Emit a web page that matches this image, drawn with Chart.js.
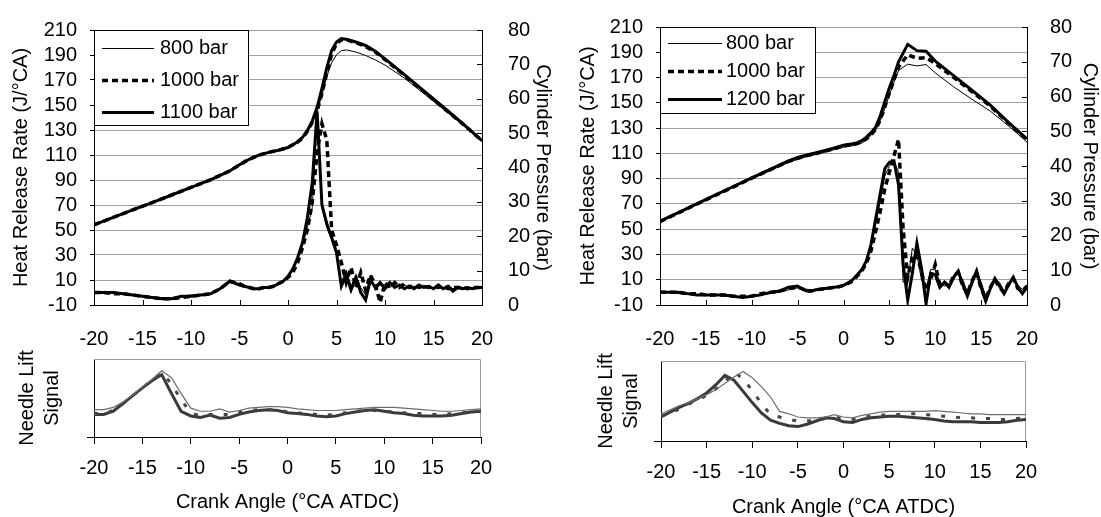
<!DOCTYPE html>
<html>
<head>
<meta charset="utf-8">
<script src="https://cdn.jsdelivr.net/npm/chart.js@4.4.1/dist/chart.umd.min.js"></script>
<style>
  html, body { margin: 0; padding: 0; background: #fff; overflow: hidden; width: 1101px; height: 517px; }
  .pane { position: absolute; }
</style>
</head>
<body>
<div class="pane" style="left:0;top:0"><canvas id="mainLeft" width="560" height="360"></canvas></div>
<div class="pane" style="left:551px;top:0"><canvas id="mainRight" width="560" height="360"></canvas></div>
<div class="pane" style="left:0;top:340px"><canvas id="needleLeft" width="560" height="180"></canvas></div>
<div class="pane" style="left:551px;top:340px"><canvas id="needleRight" width="560" height="180"></canvas></div>
<script>
// ---- axes ----
const crankTicks = [-20, -15, -10, -5, 0, 5, 10, 15, 20];
const hrrTicks = [-10, 10, 30, 50, 70, 90, 110, 130, 150, 170, 190, 210];
const pressureTicks = [0, 10, 20, 30, 40, 50, 60, 70, 80];

// crank angles of the heat release samples
const crankHrr = [-20, -19, -18, -17, -16, -15, -14, -13, -12, -11, -10, -9, -8, -7, -6, -5,
  -4.5, -4, -3.5, -3, -2.5, -2, -1.5, -1, -0.5, 0,
  0.5, 1, 1.5, 2, 2.5, 3, 3.5, 4, 4.5, 5,
  5.5, 6, 6.5, 7, 7.5, 8, 8.5, 9, 9.5, 10,
  10.5, 11, 11.5, 12, 12.5, 13, 13.5, 14, 14.5, 15,
  15.5, 16, 16.5, 17, 17.5, 18, 18.5, 19, 19.5, 20];
// crank angles of the pressure samples
const crankP = [-20, -18, -16, -14, -12, -10, -8, -6, -5, -4, -3, -2, -1, 0,
  1, 1.5, 2, 2.5, 3, 3.5, 4, 4.5, 5, 5.5, 6, 7, 8, 9, 10, 12, 14, 16, 18, 20];
// crank angles of the needle lift samples
const crankNeedle = [-20, -19, -18, -17, -16, -15, -14, -13, -12, -11, -10, -9, -8, -7, -6, -5, -4, -3, -2, -1,
  0, 1, 2, 3, 4, 5, 6, 7, 8, 9, 10, 11, 12, 13, 14, 15, 16, 17, 18, 19, 20];

// ---- left panel: 800 / 1000 / 1100 bar ----
const hrrL800 = [0, 0, 0, -1, -2, -3, -4, -4, -5, -3, -2, -2, -1, 3, 8, 7,
  5, 4, 3, 3, 4, 4, 5, 7, 9, 12,
  18, 27, 38, 52, 68, 138, 68, 52, 42, 30,
  8, 18, 5, 14, 4, -2, 14, 2, 6, 6,
  4, 7, 4, 6, 4, 5, 4, 6, 4, 4,
  5, 3, 6, 3, 5, 4, 4, 4, 3, 4];
const hrrL1000 = [0, 0, -1, -1, -2, -3, -4, -5, -5, -4, -3, -2, -1, 3, 9, 7,
  5, 4, 3, 3, 4, 4, 5, 7, 9, 12,
  16, 24, 36, 50, 72, 112, 135, 122, 50, 38,
  24, 8, 20, 4, 16, 2, 14, 6, -8, 8,
  4, 8, 4, 7, 4, 6, 4, 5, 4, 5,
  4, 5, 3, 4, 4, 4, 3, 4, 4, 4];
const hrrL1100 = [0, 0, 0, -1, -2, -3, -4, -5, -5, -3, -3, -2, -1, 3, 9, 6,
  5, 4, 3, 3, 4, 4, 5, 7, 9, 13,
  19, 28, 40, 60, 88, 145, 70, 55, 44, 32,
  5, 14, 2, 12, 0, -6, 10, 4, 8, 3,
  8, 4, 6, 3, 5, 3, 6, 4, 5, 3,
  6, 3, 5, 1, 4, 3, 4, 3, 4, 4];
const pL800 = [23.3, 25.5, 27.7, 29.8, 32.0, 34.2, 36.4, 39.0, 40.8, 42.4, 43.6, 44.4, 45.0, 45.8,
  47.4, 48.6, 50.5, 53.0, 56.5, 61.0, 66.5, 70.5, 72.8, 74.0, 74.2, 73.6, 72.6, 71.3, 69.8,
  66.0, 61.5, 57.0, 52.5, 47.6];
const pL1000 = [23.3, 25.5, 27.7, 29.8, 32.0, 34.2, 36.4, 39.0, 40.8, 42.4, 43.6, 44.4, 45.0, 45.8,
  47.4, 48.6, 50.5, 53.2, 56.5, 61.5, 67.5, 73.0, 76.0, 77.2, 77.2, 76.3, 75.2, 73.6, 71.4,
  66.8, 62.1, 57.4, 52.7, 47.8];
const pL1100 = [23.3, 25.5, 27.7, 29.8, 32.0, 34.2, 36.4, 39.0, 40.8, 42.4, 43.6, 44.4, 45.0, 45.8,
  47.5, 48.8, 50.8, 53.5, 57.5, 63.0, 69.0, 74.0, 76.5, 77.5, 77.3, 76.5, 75.5, 73.8, 71.6,
  67.0, 62.3, 57.6, 52.8, 47.8];
const nlL800 = [0.35, 0.35, 0.38, 0.45, 0.54, 0.64, 0.74, 0.85, 0.76, 0.56,
  0.37, 0.33, 0.33, 0.36, 0.32, 0.34, 0.37, 0.38, 0.39, 0.39,
  0.38, 0.36, 0.35, 0.34, 0.34, 0.34, 0.35, 0.36, 0.37, 0.38,
  0.38, 0.38, 0.37, 0.36, 0.35, 0.34, 0.33, 0.33, 0.34, 0.35, 0.36];
const nlL1000 = [0.30, 0.30, 0.34, 0.43, 0.53, 0.63, 0.73, 0.83, 0.68, 0.48,
  0.31, 0.27, 0.29, 0.29, 0.29, 0.32, 0.34, 0.35, 0.35, 0.35,
  0.32, 0.31, 0.30, 0.29, 0.28, 0.29, 0.31, 0.33, 0.34, 0.34,
  0.33, 0.32, 0.31, 0.30, 0.30, 0.29, 0.29, 0.30, 0.31, 0.32, 0.33];
const nlL1100 = [0.29, 0.29, 0.33, 0.43, 0.53, 0.63, 0.72, 0.80, 0.56, 0.33,
  0.27, 0.25, 0.28, 0.24, 0.25, 0.29, 0.32, 0.34, 0.35, 0.34,
  0.31, 0.30, 0.29, 0.27, 0.26, 0.27, 0.30, 0.32, 0.34, 0.35,
  0.33, 0.31, 0.30, 0.28, 0.27, 0.27, 0.27, 0.28, 0.30, 0.32, 0.33];

// ---- right panel: 800 / 1000 / 1200 bar ----
const hrrR800 = [0, 0, -1, -1, -2, -2, -2, -3, -3, -4, -3, -2, -1, 0, 2, 3.5,
  3, 2.5, 2, 2.5, 3, 3.5, 4, 4.5, 5, 6,
  7.5, 10, 13, 17, 24, 36, 54, 72, 92, 100,
  104, 95, 8, 8, 35, 30, 10, 3, 18, 18,
  8, 5, 6, 10, 16, 10, 0, 5, 16, 8,
  -3, 2, 10, 8, 1, 4, 12, 6, 2, 6];
const hrrR1000 = [0, 0, 0, -1, -1, -2, -2, -2, -3, -3, -3, -1, 0, 1, 3, 4,
  3, 1, 1, 2, 2.5, 3, 3.5, 4, 4.5, 5.5,
  7, 9, 13, 17, 23, 33, 48, 64, 82, 95,
  108, 121, 50, 12, 28, 30, 16, 2, 10, 22,
  6, 8, 5, 13, 16, 5, -1, 9, 16, 3,
  -5, 4, 10, 4, 0, 7, 11, 3, 1, 5];
const hrrR1200 = [0, 0, 0, -1, -2, -2, -2, -2, -3, -4, -3, -2, 0, 1, 4, 5,
  2.5, 1, 1, 2, 2.5, 3, 3.5, 4, 4.5, 5.5,
  7.5, 10, 14, 18, 25, 38, 58, 78, 98, 103,
  104, 85, 22, -6, 15, 39, 19, -9, 15, 14,
  4, 8, 4, 12, 17, 6, -3, 8, 17, 4,
  -7, 3, 11, 5, -1, 6, 12, 4, -1, 4];
const pR800 = [24.0, 26.5, 29.0, 31.4, 33.9, 36.3, 38.7, 41.0, 41.9, 42.7, 43.3, 44.0, 44.7, 45.4,
  45.8, 46.1, 46.6, 47.5, 48.8, 50.3, 53.0, 56.5, 60.5, 64.0, 67.5, 69.3, 68.8, 69.2, 66.8,
  62.8, 59.2, 55.8, 51.5, 46.9];
const pR1000 = [24.0, 26.5, 29.0, 31.5, 34.0, 36.5, 38.9, 41.3, 42.2, 43.0, 43.6, 44.3, 45.0, 45.8,
  46.2, 46.5, 47.0, 47.8, 49.0, 50.5, 53.2, 57.0, 61.0, 64.8, 68.5, 72.0, 71.0, 71.2, 69.5,
  65.5, 61.4, 57.2, 52.3, 47.6];
const pR1200 = [24.1, 26.6, 29.1, 31.6, 34.1, 36.6, 39.0, 41.5, 42.5, 43.2, 43.8, 44.5, 45.2, 46.0,
  46.4, 46.7, 47.3, 48.3, 49.6, 51.2, 54.4, 58.5, 62.5, 66.0, 70.0, 75.0, 73.2, 73.0, 70.2,
  66.0, 61.8, 57.5, 52.5, 47.8];
const nlR800 = [0.34, 0.39, 0.44, 0.48, 0.53, 0.58, 0.64, 0.72, 0.80, 0.87,
  0.79, 0.68, 0.55, 0.37, 0.34, 0.30, 0.29, 0.29, 0.30, 0.33,
  0.30, 0.29, 0.32, 0.34, 0.36, 0.37, 0.37, 0.37, 0.37, 0.37,
  0.38, 0.37, 0.36, 0.35, 0.34, 0.34, 0.33, 0.33, 0.33, 0.33, 0.33];
const nlR1000 = [0.31, 0.35, 0.40, 0.46, 0.51, 0.57, 0.65, 0.74, 0.86, 0.78,
  0.63, 0.47, 0.33, 0.30, 0.27, 0.25, 0.25, 0.26, 0.28, 0.30,
  0.28, 0.27, 0.29, 0.31, 0.32, 0.33, 0.33, 0.34, 0.34, 0.33,
  0.32, 0.31, 0.30, 0.29, 0.29, 0.28, 0.28, 0.27, 0.27, 0.28, 0.29];
const nlR1200 = [0.30, 0.36, 0.42, 0.47, 0.53, 0.60, 0.70, 0.82, 0.76, 0.62,
  0.48, 0.35, 0.26, 0.22, 0.19, 0.18, 0.21, 0.25, 0.29, 0.28,
  0.24, 0.23, 0.27, 0.29, 0.30, 0.31, 0.31, 0.30, 0.29, 0.28,
  0.27, 0.25, 0.24, 0.24, 0.24, 0.23, 0.23, 0.23, 0.24, 0.26, 0.27];

// ---- looks ----
const FONT = '"Liberation Sans", Arial, Helvetica, sans-serif';
const GRID = '#a0a0a0';
Chart.defaults.font.family = FONT;
Chart.defaults.font.size = 20;
Chart.defaults.color = '#000';

const mainStyles = {
  thin:   { borderColor: '#000', borderWidth: 1,   borderDash: [] },
  dashed: { borderColor: '#000', borderWidth: 3.5, borderDash: [6, 4] },
  thick:  { borderColor: '#000', borderWidth: 3,   borderDash: [] }
};
const needleStyles = {
  thin:   { borderColor: '#6e6e6e', borderWidth: 1.2, borderDash: [] },
  dashed: { borderColor: '#444',    borderWidth: 3,   borderDash: [4, 11] },
  thick:  { borderColor: '#3a3a3a', borderWidth: 3,   borderDash: [] }
};

function toPoints(xs, ys) {
  return xs.map((x, i) => ({ x: x, y: ys[i] }));
}

// tick marks that point into the plot area
const innerTicks = {
  id: 'innerTicks',
  afterDatasetsDraw(chart, args, opts) {
    if (!opts.scales) return;
    const { ctx, chartArea } = chart;
    ctx.save();
    ctx.strokeStyle = '#000';
    ctx.lineWidth = 1;
    opts.scales.forEach(id => {
      const s = chart.scales[id];
      s.ticks.forEach(t => {
        const p = Math.round(s.getPixelForValue(t.value)) + 0.5;
        ctx.beginPath();
        if (s.isHorizontal()) {
          ctx.moveTo(p, chartArea.bottom);
          ctx.lineTo(p, chartArea.bottom - opts.length);
        } else {
          ctx.moveTo(chartArea.right, p);
          ctx.lineTo(chartArea.right - opts.length, p);
        }
        ctx.stroke();
      });
    });
    ctx.restore();
  }
};

// grey top and right edges of the needle lift plot
const greyFrame = {
  id: 'greyFrame',
  beforeDatasetsDraw(chart, args, opts) {
    if (!opts.color) return;
    const { ctx, chartArea: a } = chart;
    ctx.save();
    ctx.strokeStyle = opts.color;
    ctx.lineWidth = 1;
    ctx.beginPath();
    ctx.moveTo(a.left, a.top + 0.5);
    ctx.lineTo(a.right - 0.5, a.top + 0.5);
    ctx.lineTo(a.right - 0.5, a.bottom);
    ctx.stroke();
    ctx.restore();
  }
};

// boxed legend in the top left corner of the plot
const boxedLegend = {
  id: 'boxedLegend',
  afterDatasetsDraw(chart, args, o) {
    if (!o.width) return;
    const { ctx, chartArea } = chart;
    const x0 = chartArea.left, y0 = chartArea.top;
    ctx.save();
    ctx.fillStyle = '#fff';
    ctx.fillRect(x0, y0, o.width, o.height);
    ctx.setLineDash([]);
    ctx.strokeStyle = '#000';
    ctx.lineWidth = 1;
    ctx.strokeRect(x0 + 0.5, y0 + 0.5, o.width, o.height);
    ctx.font = '20px ' + FONT;
    ctx.textBaseline = 'middle';
    ctx.textAlign = 'left';
    chart.data.datasets.filter(d => d.yAxisID === 'y').forEach((d, i) => {
      const y = Math.round(y0 + o.firstRow + i * o.rowHeight) + 0.5;
      ctx.beginPath();
      ctx.lineWidth = d.borderWidth;
      ctx.setLineDash(d.borderDash);
      ctx.strokeStyle = d.borderColor;
      ctx.moveTo(x0 + o.lineFrom, y);
      ctx.lineTo(x0 + o.lineTo, y);
      ctx.stroke();
      ctx.fillStyle = '#000';
      ctx.fillText(d.label, x0 + o.textX, y);
    });
    ctx.restore();
  }
};

function mainChart(id, series, g) {
  const datasets = [];
  series.forEach(s => {
    datasets.push(Object.assign({ label: s.label, yAxisID: 'y', data: toPoints(crankHrr, s.hrr) }, mainStyles[s.style]));
  });
  series.forEach(s => {
    datasets.push(Object.assign({ label: s.label, yAxisID: 'y1', data: toPoints(crankP, s.p) }, mainStyles[s.style]));
  });
  return new Chart(document.getElementById(id), {
    type: 'line',
    data: { datasets: datasets },
    plugins: [innerTicks, boxedLegend],
    options: {
      responsive: false,
      animation: false,
      events: [],
      elements: { point: { radius: 0 }, line: { tension: 0, fill: false, borderCapStyle: 'butt' } },
      layout: { padding: { top: g.padTop, left: 0, right: 0, bottom: 0 } },
      plugins: {
        legend: { display: false },
        tooltip: { enabled: false },
        innerTicks: { scales: ['x', 'y1'], length: 5 },
        boxedLegend: g.legend
      },
      scales: {
        x: {
          type: 'linear', min: -20, max: 20,
          afterBuildTicks: s => { s.ticks = crankTicks.map(v => ({ value: v })); },
          afterFit: s => { s.height = g.xH; },
          grid: { display: false },
          border: { color: '#000' },
          ticks: { padding: g.xTickPad, maxRotation: 0, autoSkip: false }
        },
        y: {
          position: 'left', min: -10, max: 210,
          afterBuildTicks: s => { s.ticks = hrrTicks.map(v => ({ value: v })); },
          afterFit: s => { s.width = g.yW; },
          grid: {
            color: c => (c.tick && c.tick.value === hrrTicks[0]) ? 'rgba(0,0,0,0)' : GRID,
            tickColor: '#000', tickLength: 4
          },
          border: { color: '#000' },
          ticks: { padding: g.yTickPad, autoSkip: false },
          title: { display: true, text: 'Heat Release Rate (J/°CA)', padding: g.yTitlePad, font: { size: 20 } }
        },
        y1: {
          position: 'right', min: 0, max: 80,
          afterBuildTicks: s => { s.ticks = pressureTicks.map(v => ({ value: v })); },
          afterFit: s => { s.width = g.y1W; },
          grid: { display: false },
          border: { color: '#000' },
          ticks: { padding: g.y1TickPad, autoSkip: false },
          title: { display: true, text: 'Cylinder Pressure (bar)', padding: g.y1TitlePad, font: { size: 20 } }
        }
      }
    }
  });
}

function needleChart(id, series, g) {
  const datasets = series.map(s => Object.assign({ label: s.label, data: toPoints(crankNeedle, s.nl) }, needleStyles[s.style]));
  return new Chart(document.getElementById(id), {
    type: 'line',
    data: { datasets: datasets },
    plugins: [greyFrame],
    options: {
      responsive: false,
      animation: false,
      events: [],
      elements: { point: { radius: 0 }, line: { tension: 0, fill: false } },
      layout: { padding: { top: g.padTop, left: 0, right: g.padRight, bottom: 0 } },
      plugins: {
        legend: { display: false },
        tooltip: { enabled: false },
        greyFrame: { color: '#9a9a9a' }
      },
      scales: {
        x: {
          type: 'linear', min: -20, max: 20,
          afterBuildTicks: s => { s.ticks = crankTicks.map(v => ({ value: v })); },
          afterFit: s => { s.height = g.xH; },
          grid: { drawOnChartArea: false, color: '#000', tickLength: 7 },
          border: { color: '#000' },
          ticks: { padding: g.xTickPad, maxRotation: 0, autoSkip: false },
          title: { display: true, text: 'Crank Angle (°CA ATDC)', padding: { top: 0, bottom: g.xTitlePad }, font: { size: 20 } }
        },
        y: {
          min: 0, max: 1,
          afterBuildTicks: s => { s.ticks = [{ value: 0 }]; },
          afterFit: s => { s.width = g.yW; },
          grid: { drawOnChartArea: false, color: '#000', tickLength: 7 },
          border: { color: '#000' },
          ticks: { display: false },
          title: { display: true, text: ['Needle Lift', 'Signal'], padding: g.yTitlePad, font: { size: 20, lineHeight: 1.25 } }
        }
      }
    }
  });
}

mainChart('mainLeft', [
  { label: '800 bar',  style: 'thin',   hrr: hrrL800,  p: pL800 },
  { label: '1000 bar', style: 'dashed', hrr: hrrL1000, p: pL1000 },
  { label: '1100 bar', style: 'thick',  hrr: hrrL1100, p: pL1100 }
], {
  padTop: 18, yW: 94, y1W: 78, xH: 55,
  yTickPad: 13, y1TickPad: 18, xTickPad: 14, yTitlePad: 9, y1TitlePad: 5,
  legend: { width: 154, height: 95, firstRow: 18, rowHeight: 32, lineFrom: 8, lineTo: 60, textX: 66 }
});

mainChart('mainRight', [
  { label: '800 bar',  style: 'thin',   hrr: hrrR800,  p: pR800 },
  { label: '1000 bar', style: 'dashed', hrr: hrrR1000, p: pR1000 },
  { label: '1200 bar', style: 'thick',  hrr: hrrR1200, p: pR1200 }
], {
  padTop: 18, yW: 109, y1W: 84, xH: 55,
  yTickPad: 13, y1TickPad: 15, xTickPad: 14, yTitlePad: 25, y1TitlePad: 9,
  legend: { width: 155, height: 86, firstRow: 16, rowHeight: 28, lineFrom: 8, lineTo: 62, textX: 66 }
});

needleChart('needleLeft', [
  { label: '800 bar',  style: 'thin',   nl: nlL800 },
  { label: '1000 bar', style: 'dashed', nl: nlL1000 },
  { label: '1100 bar', style: 'thick',  nl: nlL1100 }
], { padTop: 19, padRight: 79, yW: 94, xH: 83, xTickPad: 12, xTitlePad: 6, yTitlePad: 15 });

needleChart('needleRight', [
  { label: '800 bar',  style: 'thin',   nl: nlR800 },
  { label: '1000 bar', style: 'dashed', nl: nlR1000 },
  { label: '1200 bar', style: 'thick',  nl: nlR1200 }
], { padTop: 21, padRight: 85, yW: 110, xH: 79, xTickPad: 12, xTitlePad: 1, yTitlePad: 43 });
</script>
</body>
</html>
